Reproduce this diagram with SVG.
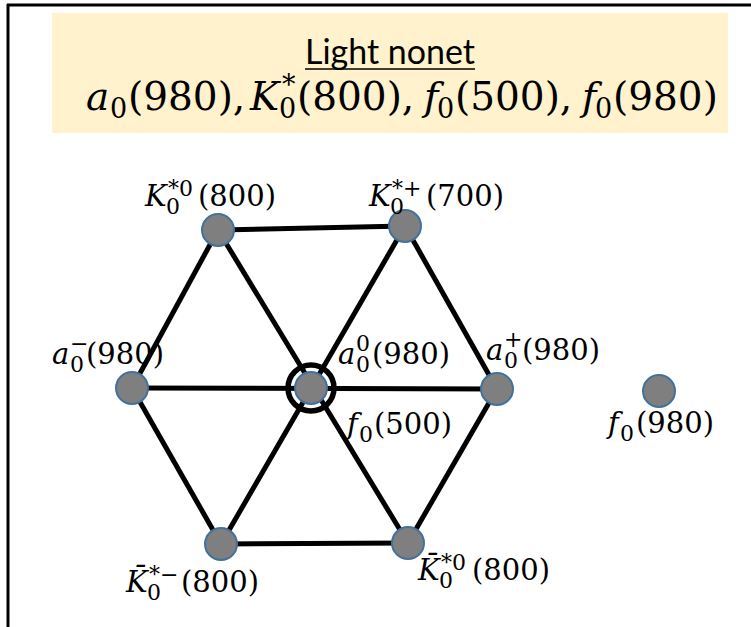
<svg xmlns="http://www.w3.org/2000/svg" width="751" height="627" viewBox="0 0 751 627">
<style>
.edge{stroke:#000;stroke-width:5;fill:none;stroke-linecap:butt}
.node{fill:#7F7F7F;stroke:#41719C;stroke-width:2}
.m{font-family:"DejaVu Serif","Liberation Serif",serif;fill:#000}
.lab{font-size:29px}
.i{font-style:italic}
.s{font-size:22px}
.fs{font-size:27px}
</style>
<rect x="0" y="0" width="751" height="627" fill="#fff"/>
<g id="frame">
<line x1="7" y1="5" x2="751" y2="5" stroke="#000" stroke-width="3"/>
<line x1="8" y1="4" x2="8" y2="627" stroke="#000" stroke-width="3"/>
</g>
<g id="title">
<rect x="52" y="13" width="676" height="120" fill="#FFF2CC"/>
<text x="390" y="64" text-anchor="middle" font-family="Lato, 'Open Sans', sans-serif" font-size="35" textLength="170" lengthAdjust="spacingAndGlyphs">Light nonet</text>
<line x1="305" y1="69" x2="475" y2="69" stroke="#000" stroke-width="1.6"/>
<text class="m" font-size="39" y="110"><tspan class="i" x="86">a</tspan><tspan class="fs" x="110" y="118">0</tspan><tspan x="128" y="110">(980),</tspan><tspan class="i" x="250">K</tspan><tspan class="fs" x="282" y="94">*</tspan><tspan class="fs" x="279" y="118">0</tspan><tspan x="297" y="110">(800),</tspan><tspan class="i" x="424">f</tspan><tspan class="fs" x="437" y="118">0</tspan><tspan x="455" y="110">(500),</tspan><tspan class="i" x="582">f</tspan><tspan class="fs" x="595" y="118">0</tspan><tspan x="613" y="110">(980)</tspan></text>
</g>
<g id="connectors">
<line class="edge" x1="218" y1="230" x2="405" y2="226"/>
<line class="edge" x1="405" y1="226" x2="497" y2="389"/>
<line class="edge" x1="497" y1="389" x2="408" y2="543"/>
<line class="edge" x1="408" y1="543" x2="221" y2="544"/>
<line class="edge" x1="221" y1="544" x2="132" y2="388"/>
<line class="edge" x1="132" y1="388" x2="218" y2="230"/>
<line class="edge" x1="218" y1="230" x2="408" y2="543"/>
<line class="edge" x1="405" y1="226" x2="221" y2="544"/>
<line class="edge" x1="132" y1="388" x2="497" y2="389"/>
</g>
<g id="n-K0star0">
<circle class="node" cx="218" cy="230" r="16"/>
<text class="m lab"><tspan class="i" x="145" y="206">K</tspan><tspan class="s" x="166" y="214">0</tspan><tspan class="s" x="168" y="196">*0</tspan><tspan x="198" y="206">(800)</tspan></text>
</g>
<g id="n-K0starplus">
<circle class="node" cx="405" cy="226" r="16"/>
<text class="m lab"><tspan class="i" x="369" y="206">K</tspan><tspan class="s" x="390" y="214">0</tspan><tspan class="s" x="392" y="196">*+</tspan><tspan x="426" y="206">(700)</tspan></text>
</g>
<g id="n-a0minus">
<circle class="node" cx="132" cy="388" r="16"/>
<text class="m lab"><tspan class="i" x="52" y="364">a</tspan><tspan class="s" x="70" y="372">0</tspan><tspan class="s" x="70" y="351">−</tspan><tspan x="86" y="364">(980)</tspan></text>
</g>
<g id="n-center">
<circle cx="311" cy="388" r="23" fill="none" stroke="#000" stroke-width="5.5"/>
<circle class="node" cx="311" cy="388" r="16"/>
<text class="m lab"><tspan class="i" x="338" y="364">a</tspan><tspan class="s" x="356" y="372">0</tspan><tspan class="s" x="356" y="351">0</tspan><tspan x="372" y="364">(980)</tspan></text>
<text class="m lab"><tspan class="i" x="347" y="434">f</tspan><tspan class="s" x="359" y="442">0</tspan><tspan x="374" y="434">(500)</tspan></text>
</g>
<g id="n-a0plus">
<circle class="node" cx="497" cy="389" r="16"/>
<text class="m lab"><tspan class="i" x="486" y="360">a</tspan><tspan class="s" x="504" y="368">0</tspan><tspan class="s" x="504" y="347">+</tspan><tspan x="522" y="360">(980)</tspan></text>
</g>
<g id="n-f0-980">
<circle class="node" cx="659" cy="391" r="16"/>
<text class="m lab"><tspan class="i" x="608" y="433">f</tspan><tspan class="s" x="620" y="441">0</tspan><tspan x="636" y="433">(980)</tspan></text>
</g>
<g id="n-Kbarminus">
<circle class="node" cx="221" cy="544" r="16"/>
<text class="m lab"><tspan class="i" x="126" y="592">K̄</tspan><tspan class="s" x="147" y="600">0</tspan><tspan class="s" x="149" y="582">*−</tspan><tspan x="181" y="592">(800)</tspan></text>
</g>
<g id="n-Kbar0">
<circle class="node" cx="408" cy="543" r="16"/>
<text class="m lab"><tspan class="i" x="418" y="580">K̄</tspan><tspan class="s" x="439" y="588">0</tspan><tspan class="s" x="441" y="570">*0</tspan><tspan x="472" y="580">(800)</tspan></text>
</g>
</svg>
